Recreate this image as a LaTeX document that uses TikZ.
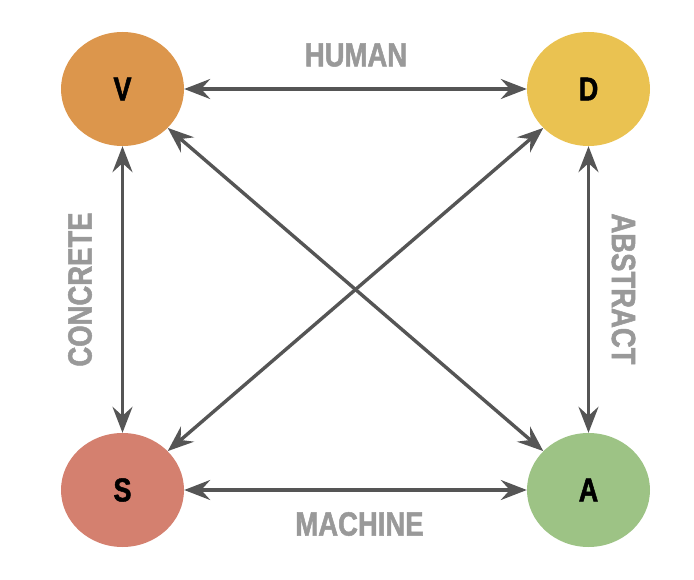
\documentclass[tikz,border=0pt]{standalone}
\usepackage{fontspec}
\setmainfont[FakeStretch=0.82, BoldFeatures={FakeBold=1.5}]{Liberation Sans}
\usetikzlibrary{shapes.geometric,arrows.meta}
\definecolor{cV}{HTML}{DC964C}
\definecolor{cD}{HTML}{EAC251}
\definecolor{cS}{HTML}{D4806F}
\definecolor{cA}{HTML}{9DC385}
\definecolor{lineg}{HTML}{555555}
\definecolor{textg}{HTML}{999999}
\tikzset{
  x=1pt, y=-1pt,
  vertex/.style={ellipse, draw=none, minimum width=123pt, minimum height=114pt, inner sep=0pt,
    font=\fontsize{33}{36}\selectfont\bfseries, text=black},
  link/.style={draw=lineg, line width=3.4pt,
    {Stealth[length=26pt,width=20pt,inset=9pt]}-{Stealth[length=26pt,width=20pt,inset=9pt]}},
  lbl/.style={inner sep=0pt, text=textg, font=\fontsize{33.5}{36}\selectfont\bfseries}
}
\begin{document}
\begin{tikzpicture}
\useasboundingbox (0,0) rectangle (694,580);
\node[vertex, fill=cV] (V) at (122.5,89) {V};
\node[vertex, fill=cD] (D) at (588.5,89) {D};
\node[vertex, fill=cS] (S) at (122.5,490) {S};
\node[vertex, fill=cA] (A) at (588.5,490) {A};
\draw[link] (V) -- (D);
\draw[link] (S) -- (A);
\draw[link] (V) -- (S);
\draw[link] (D) -- (A);
\draw[link] (V) -- (A);
\draw[link] (S) -- (D);
\node[lbl] (human) at (356,55) {HUMAN};
\node[lbl] (machine) at (359.5,524) {MACHINE};
\node[lbl, rotate=90] (concrete) at (80,289.5) {CONCRETE};
\node[lbl, rotate=-90] (abstract) at (623.5,289) {ABSTRACT};
\end{tikzpicture}
\end{document}
